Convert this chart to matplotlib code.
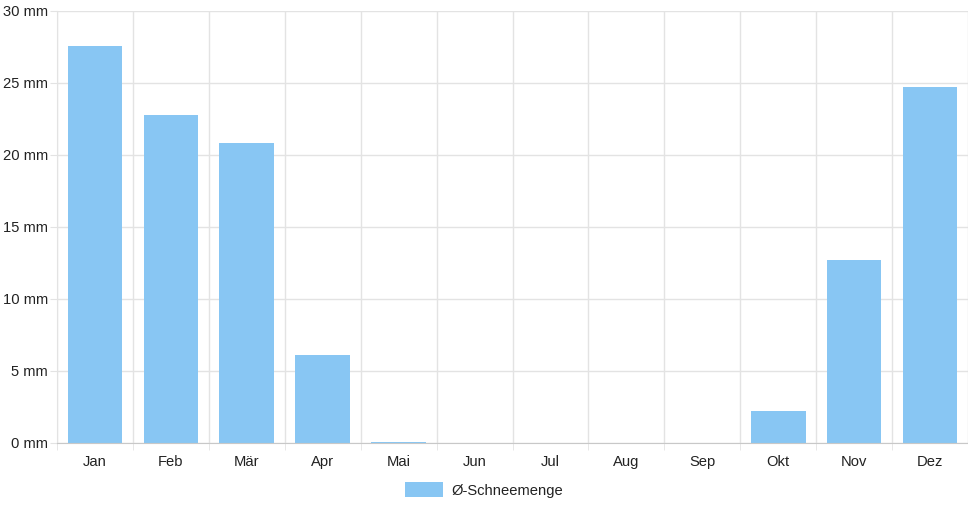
import matplotlib.pyplot as plt
from matplotlib.patches import Patch
from matplotlib.ticker import FixedLocator

months = ["Jan", "Feb", "Mär", "Apr", "Mai", "Jun", "Jul", "Aug", "Sep", "Okt", "Nov", "Dez"]
snow_mm = [27.6, 22.8, 20.8, 6.1, 0.05, 0.0, 0.0, 0.0, 0.0, 2.2, 12.7, 24.7]
y_ticks = [0, 5, 10, 15, 20, 25, 30]

plt.rcParams["font.family"] = ["Liberation Sans", "DejaVu Sans"]

bar_color = "#88c6f3"
grid_color = "#e3e3e3"
fs = 10.6

fig = plt.figure(figsize=(9.68, 5.08), dpi=100)
ax = fig.add_axes([57 / 968, 1 - 443 / 508, (968 - 57) / 968, 432 / 508])

x = list(range(len(months)))
ax.bar(x, snow_mm, width=0.72, color=bar_color, zorder=2)

ax.set_xlim(-0.5, len(months) - 0.5)
ax.set_ylim(0, 30)
ax.set_yticks(y_ticks)
ax.set_yticklabels([f"{v} mm" for v in y_ticks])
ax.set_xticks(x)
ax.set_xticklabels(months)

# vertical grid at category boundaries
ax.xaxis.set_minor_locator(FixedLocator([i - 0.5 for i in range(len(months) + 1)]))
ax.grid(True, which="minor", axis="x", color=grid_color, linewidth=1, zorder=0)
ax.grid(True, which="major", axis="y", color=grid_color, linewidth=1, zorder=0)

ax.tick_params(axis="x", which="major", length=0, pad=8.5, labelsize=fs, colors="#222222")
ax.tick_params(axis="x", which="minor", length=5, color=grid_color)
ax.tick_params(axis="y", length=5, pad=1.5, labelsize=fs, colors="#222222")
ax.tick_params(axis="y", color=grid_color)

for side in ["top", "right"]:
    ax.spines[side].set_visible(False)
ax.spines["left"].set_color(grid_color)
ax.spines["bottom"].set_color("#c8c8c8")

handles = [Patch(facecolor=bar_color, edgecolor="none", label="Ø-Schneemenge")]
fig.legend(handles=handles, loc="center", bbox_to_anchor=(0.5, 1 - 490 / 508),
           frameon=False, fontsize=fs, handlelength=2.6, handleheight=1.1,
           handletextpad=0.6, labelcolor="#222222")

fig.savefig("out.png", dpi=100)
